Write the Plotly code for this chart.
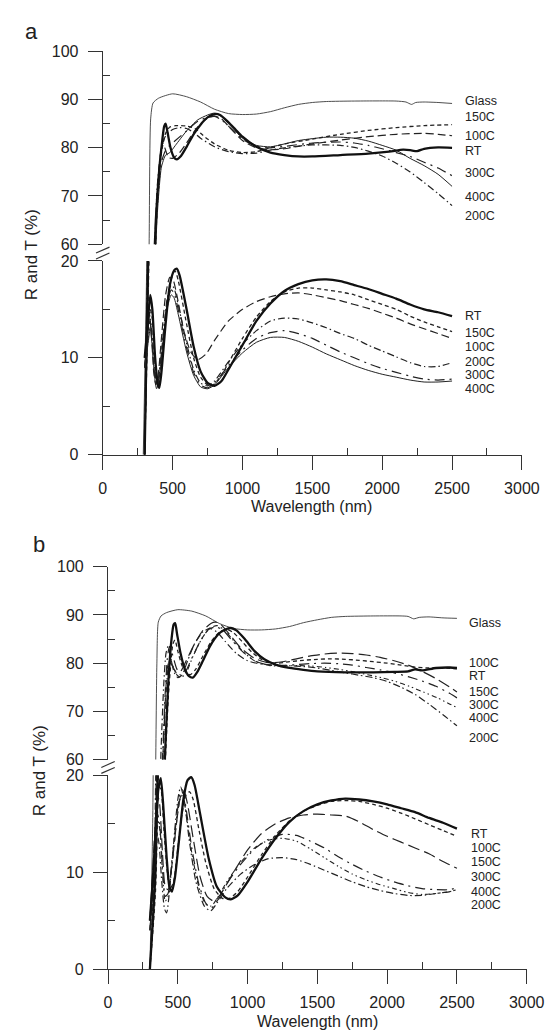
import plotly.graph_objects as go

# ---------------- data: panel (a) transmittance (upper part, %) ----------------
A_T_GLASS = [(290, 0), (315, 20), (332, 60), (343, 86), (360, 89.3), (400, 90.3), (500, 91.2), (600, 90.6),
             (700, 89.5), (800, 88.0), (900, 87.1), (1000, 86.9), (1100, 87.0), (1200, 87.5), (1300, 88.3),
             (1400, 89.0), (1500, 89.4), (1600, 89.6), (1800, 89.7), (2100, 89.7), (2170, 89.5), (2210, 89.0),
             (2240, 89.4), (2300, 89.5), (2400, 89.4), (2500, 89.2)]
A_T_RT = [(300, 0), (318, 15), (340, 32), (360, 50), (380, 65), (400, 74), (420, 80), (440, 84.5), (450, 85),
          (465, 83), (485, 80), (510, 78), (530, 77.6), (560, 78.3), (600, 80.2), (650, 82.8), (700, 84.8),
          (750, 86.3), (800, 87), (840, 86.8), (900, 85.3), (950, 83.8), (1000, 82.3), (1100, 80.2), (1200, 79),
          (1300, 78.5), (1400, 78.2), (1500, 78.2), (1700, 78.5), (1900, 78.8), (2050, 79.2), (2150, 79.6),
          (2200, 79.5), (2250, 79.3), (2300, 79.8), (2400, 80.1), (2500, 80)]
A_T_100 = [(300, 0), (320, 15), (360, 45), (390, 70), (415, 79), (430, 81), (450, 79.5), (470, 78), (500, 77.8),
           (550, 79), (600, 81), (650, 83.2), (700, 85), (760, 86.3), (800, 86.6), (850, 86), (900, 84.5),
           (1000, 81.5), (1100, 80), (1200, 79.6), (1300, 79.8), (1400, 80.3), (1500, 80.8), (1700, 81.6),
           (1900, 82.3), (2100, 82.8), (2300, 83), (2400, 82.8), (2500, 82.5)]
A_T_150 = [(300, 0), (322, 14), (360, 42), (390, 68), (420, 79), (450, 83), (480, 84.3), (520, 84.6), (600, 84.5),
           (660, 84), (720, 82.5), (800, 80.8), (900, 79.5), (1000, 79), (1100, 79.2), (1200, 80), (1300, 80.8),
           (1500, 81.8), (1700, 82.8), (1900, 83.6), (2100, 84.2), (2300, 84.6), (2500, 84.8)]
A_T_200 = [(300, 0), (318, 18), (360, 50), (390, 72), (420, 80), (450, 82.5), (500, 83.8), (550, 84.2), (600, 84),
           (650, 83.2), (700, 82), (800, 80.2), (900, 79.2), (1000, 78.8), (1100, 78.9), (1200, 79.5), (1300, 80),
           (1500, 80.6), (1700, 80.5), (1800, 80.1), (1900, 79.3), (2000, 78.3), (2100, 76.8), (2200, 75),
           (2300, 72.8), (2400, 70.5), (2500, 68)]
A_T_300 = [(300, 0), (320, 15), (360, 45), (390, 68), (420, 77), (450, 79.5), (480, 80.5), (520, 81.5), (600, 83.5),
           (680, 85.5), (750, 86.3), (800, 86.5), (850, 85.8), (900, 84.5), (1000, 81.8), (1100, 80.3), (1200, 80),
           (1300, 80.3), (1500, 81), (1700, 81.2), (1800, 81), (1900, 80.5), (2000, 79.8), (2100, 79), (2200, 78.2),
           (2300, 77), (2400, 75.8), (2500, 74.2)]
A_T_400 = [(300, 0), (321, 14), (360, 44), (390, 66), (420, 76), (450, 78.5), (480, 79), (520, 80.5), (600, 83.5),
           (680, 85.8), (750, 86.8), (800, 87.2), (850, 86.5), (900, 85), (1000, 82), (1100, 80.5), (1200, 80.2),
           (1300, 80.8), (1400, 81.5), (1500, 81.9), (1600, 82.2), (1700, 82.2), (1800, 82), (1900, 81.4),
           (2000, 80.5), (2100, 79.5), (2200, 77.8), (2300, 76.3), (2400, 74.5), (2500, 72)]

# ---------------- data: panel (a) reflectance (lower part, %) ----------------
A_R_RT = [(300, 10), (320, 13), (340, 16.5), (355, 15), (375, 10), (395, 7.2), (405, 6.9), (420, 8.5), (450, 13.5),
          (480, 17.5), (510, 19), (530, 19.2), (550, 18.5), (600, 15), (650, 11.2), (700, 8.6), (750, 7.4),
          (800, 7.1), (850, 7.6), (900, 8.8), (1000, 11.3), (1100, 13.8), (1200, 15.6), (1300, 16.9), (1400, 17.6),
          (1500, 18), (1600, 18.1), (1700, 17.9), (1800, 17.5), (1900, 17.1), (2000, 16.6), (2100, 16.1),
          (2200, 15.5), (2300, 15), (2400, 14.7), (2500, 14.3)]
A_R_150 = [(300, 10), (320, 12.5), (340, 15), (355, 14), (375, 9.5), (390, 7.5), (400, 7.2), (420, 9), (450, 14),
           (480, 17.5), (505, 18.8), (520, 18.9), (540, 18), (600, 13.5), (650, 10), (700, 8), (750, 7.2), (790, 7.2),
           (850, 8.2), (900, 9.5), (1000, 12), (1100, 14.2), (1200, 15.8), (1300, 16.8), (1400, 17.2), (1500, 17.2),
           (1600, 17), (1700, 16.8), (1800, 16.5), (1900, 16), (2000, 15.5), (2100, 15), (2200, 14.3), (2300, 13.7),
           (2400, 13.2), (2500, 12.7)]
A_R_100 = [(300, 9), (320, 12), (335, 14.5), (350, 12), (365, 8.5), (380, 7.2), (395, 8), (420, 12), (450, 16.5),
           (480, 18.3), (500, 18.2), (530, 16.5), (580, 12.8), (630, 10.6), (680, 9.8), (740, 10.4), (800, 11.8),
           (900, 13.8), (1000, 15), (1100, 15.8), (1200, 16.3), (1300, 16.6), (1400, 16.7), (1500, 16.5),
           (1600, 16.2), (1700, 15.9), (1800, 15.5), (1900, 15.1), (2000, 14.6), (2100, 14.1), (2200, 13.5),
           (2300, 13), (2400, 12.5), (2500, 12)]
A_R_200 = [(300, 9), (320, 12), (340, 14), (355, 12), (370, 9), (385, 7.5), (400, 8), (430, 12), (460, 16),
           (490, 17.5), (510, 17.2), (540, 15.5), (600, 11.5), (650, 8.8), (700, 7.4), (750, 7.1), (800, 7.6),
           (900, 9.6), (1000, 11.4), (1100, 12.8), (1200, 13.8), (1300, 14.1), (1400, 14), (1500, 13.6),
           (1600, 13.1), (1700, 12.5), (1800, 12), (1900, 11.3), (2000, 10.7), (2100, 10.1), (2200, 9.5),
           (2300, 9.1), (2400, 9.1), (2500, 9.5)]
A_R_300 = [(300, 9), (320, 11.5), (340, 13.5), (355, 11.5), (370, 8.5), (385, 7), (400, 7.8), (430, 12), (460, 15.5),
           (490, 17), (510, 16.7), (540, 15), (600, 11), (650, 8.5), (700, 7.2), (750, 6.9), (800, 7.4), (900, 9.2),
           (1000, 10.8), (1100, 12), (1200, 12.6), (1300, 12.8), (1400, 12.5), (1500, 12), (1600, 11.3),
           (1700, 10.6), (1800, 10), (1900, 9.4), (2000, 8.9), (2100, 8.5), (2200, 8.1), (2300, 7.8), (2400, 7.7),
           (2500, 7.8)]
A_R_400 = [(300, 9), (320, 11), (340, 13), (355, 11), (370, 8.2), (385, 6.8), (400, 7.5), (430, 11.5), (460, 15),
           (490, 16.5), (510, 16.2), (540, 14.5), (600, 10.6), (650, 8.2), (700, 7), (750, 6.8), (800, 7.2),
           (900, 9), (1000, 10.5), (1100, 11.6), (1200, 12.1), (1300, 12.1), (1400, 11.7), (1500, 11.1),
           (1600, 10.4), (1700, 9.8), (1800, 9.2), (1900, 8.7), (2000, 8.3), (2100, 8), (2200, 7.7), (2300, 7.5),
           (2400, 7.5), (2500, 7.6)]

# ---------------- data: panel (b) transmittance ----------------
B_T_GLASS = [(300, 0), (320, 15), (340, 55), (350, 80), (360, 88.5), (380, 89.8), (420, 90.5), (500, 91.1),
             (600, 90.8), (700, 89.8), (800, 88.2), (900, 87.2), (1000, 86.9), (1100, 86.9), (1200, 87.1),
             (1300, 87.6), (1400, 88.4), (1500, 89), (1600, 89.5), (1700, 89.7), (1900, 89.8), (2100, 89.8),
             (2150, 89.7), (2190, 89.2), (2230, 89.5), (2300, 89.6), (2400, 89.4), (2500, 89.3)]
B_T_RT = [(300, 0), (340, 10), (370, 30), (400, 55), (430, 75), (455, 85), (470, 88), (481, 88.3), (495, 86),
          (520, 82), (550, 78.8), (580, 77.3), (607, 77), (640, 78.2), (680, 80.5), (730, 83.5), (790, 86),
          (840, 87), (880, 87.3), (920, 86.8), (980, 85), (1050, 82.5), (1120, 80.8), (1200, 79.7), (1300, 79),
          (1400, 78.6), (1500, 78.3), (1700, 78.1), (1900, 78.1), (2050, 78.2), (2150, 78.3), (2200, 78.7),
          (2250, 78.5), (2350, 79), (2450, 79.1), (2500, 79)]
B_T_100 = [(300, 0), (340, 8), (370, 28), (400, 52), (430, 72), (450, 80), (465, 84), (480, 84.8), (500, 82.5),
           (530, 79.5), (560, 78), (590, 77.6), (630, 78.8), (680, 81.5), (740, 84.5), (800, 86.5), (850, 87),
           (900, 86.3), (960, 84.5), (1030, 82.3), (1100, 80.8), (1200, 80), (1300, 80.3), (1400, 80.6),
           (1500, 80.8), (1600, 80.9), (1700, 80.8), (1800, 80.6), (1900, 80.3), (2000, 80), (2100, 79.6),
           (2200, 79.2), (2300, 79), (2400, 79), (2500, 78.8)]
B_T_150 = [(300, 0), (330, 8), (360, 30), (390, 58), (410, 72), (425, 79), (440, 80.5), (460, 79.5), (490, 78),
           (520, 78.3), (560, 80.5), (620, 84), (680, 86.8), (740, 88.3), (770, 88.5), (810, 88), (870, 86),
           (950, 83.2), (1050, 81), (1150, 80.1), (1250, 80.3), (1350, 80.9), (1450, 81.5), (1550, 81.9),
           (1650, 82.1), (1750, 82), (1850, 81.7), (1950, 81.2), (2050, 80.5), (2150, 79.6), (2250, 78.3),
           (2350, 76.8), (2450, 75), (2500, 74)]
B_T_200 = [(300, 0), (330, 10), (355, 35), (380, 62), (400, 76), (415, 82), (430, 83.5), (450, 81), (475, 78),
           (500, 77), (530, 77.5), (570, 80.5), (620, 84), (680, 86.5), (730, 87.2), (780, 86.5), (840, 84.5),
           (920, 82), (1000, 80.5), (1100, 79.8), (1200, 79.6), (1300, 79.5), (1400, 79.3), (1500, 79),
           (1600, 78.5), (1700, 78), (1800, 77.5), (1900, 77), (2000, 76.2), (2100, 75), (2200, 73.5),
           (2300, 71.5), (2400, 69.3), (2500, 67)]
B_T_300 = [(300, 0), (330, 9), (360, 32), (390, 60), (410, 74), (425, 81), (440, 83.5), (460, 82), (490, 79),
           (520, 77.5), (550, 78), (600, 81), (660, 84.5), (720, 87), (770, 87.5), (820, 87), (880, 85), (960, 82.5),
           (1050, 80.5), (1150, 79.6), (1250, 79.5), (1350, 79.7), (1450, 79.9), (1550, 80), (1650, 79.9),
           (1750, 79.6), (1850, 79.1), (1950, 78.6), (2050, 78), (2150, 77.2), (2250, 76.3), (2350, 75.2),
           (2450, 73.7), (2500, 72.8)]
B_T_400 = [(300, 0), (330, 8), (360, 30), (390, 57), (410, 71), (430, 79), (445, 81), (465, 79.5), (495, 77.5),
           (525, 77), (560, 78), (610, 81.5), (670, 85), (730, 87.3), (780, 87.8), (830, 87), (890, 85), (970, 82.3),
           (1060, 80.3), (1160, 79.5), (1260, 79.4), (1360, 79.5), (1460, 79.4), (1560, 79.1), (1660, 78.7),
           (1760, 78.2), (1860, 77.6), (1960, 77), (2060, 76.2), (2160, 75.2), (2260, 74), (2360, 72.8),
           (2450, 71.5), (2500, 70.8)]

# ---------------- data: panel (b) reflectance ----------------
B_R_RT = [(300, 5), (320, 9), (340, 14), (360, 18.5), (378, 19.7), (395, 17), (420, 11.5), (440, 8.5), (458, 8),
          (480, 9.5), (510, 13.5), (540, 17.5), (570, 19.5), (596, 19.8), (620, 19), (660, 16), (720, 11.5),
          (780, 8.5), (840, 7.4), (880, 7.2), (930, 7.6), (1000, 9), (1100, 11.4), (1200, 13.5), (1300, 15.2),
          (1400, 16.3), (1500, 17), (1600, 17.4), (1700, 17.6), (1800, 17.5), (1900, 17.3), (2000, 17),
          (2100, 16.6), (2200, 16.2), (2300, 15.6), (2400, 15.1), (2500, 14.5)]
B_R_100 = [(300, 5), (320, 9), (345, 15), (365, 18.8), (380, 18.5), (400, 14.5), (425, 10), (445, 8.3), (470, 9),
           (500, 12.5), (530, 16), (560, 18), (585, 18.3), (610, 17.5), (650, 14.5), (700, 11), (760, 8.3),
           (820, 7.3), (870, 7.3), (930, 8), (1000, 9.5), (1100, 11.8), (1200, 13.8), (1300, 15.3), (1400, 16.3),
           (1500, 16.9), (1600, 17.3), (1700, 17.4), (1800, 17.3), (1900, 17), (2000, 16.6), (2100, 16.1),
           (2200, 15.5), (2300, 14.9), (2400, 14.3), (2500, 13.7)]
B_R_150 = [(300, 5), (320, 10), (340, 15.5), (355, 18), (370, 17), (390, 12), (410, 8.5), (430, 8.2), (460, 11),
           (490, 15), (520, 17.8), (545, 18.3), (570, 17), (610, 13.5), (660, 9.5), (710, 7.5), (760, 7), (810, 7.8),
           (900, 10), (1000, 12.3), (1100, 14), (1200, 15), (1300, 15.6), (1400, 15.9), (1500, 16), (1600, 15.9),
           (1700, 15.8), (1800, 15.2), (1900, 14.4), (2000, 13.7), (2100, 13.1), (2200, 12.5), (2300, 11.9),
           (2400, 11.1), (2500, 10.4)]
B_R_200 = [(300, 4), (320, 7.5), (335, 11), (350, 14), (365, 13), (385, 9), (405, 6.2), (420, 5.8), (440, 8),
           (470, 13), (500, 17.5), (520, 18.8), (545, 17.5), (580, 13.5), (630, 9), (690, 6.5), (735, 6), (780, 6.8),
           (850, 8.3), (950, 9.8), (1050, 10.8), (1150, 11.4), (1250, 11.5), (1350, 11.3), (1450, 10.8),
           (1550, 10.2), (1650, 9.6), (1750, 9), (1850, 8.5), (1950, 8.1), (2050, 7.8), (2150, 7.6), (2250, 7.6),
           (2350, 7.8), (2450, 8), (2500, 8.2)]
B_R_300 = [(300, 4), (320, 8), (340, 13), (355, 16), (370, 15), (390, 10.5), (410, 7.5), (430, 7.8), (460, 11.5),
           (490, 15.5), (515, 18), (535, 18.5), (560, 16.5), (600, 12.5), (650, 8.8), (700, 6.8), (740, 6.3),
           (790, 7.2), (850, 8.8), (950, 10.8), (1050, 12.4), (1150, 13.4), (1250, 13.9), (1350, 13.8),
           (1450, 13.2), (1550, 12.5), (1650, 11.6), (1750, 10.8), (1850, 10.1), (1950, 9.5), (2050, 9),
           (2150, 8.6), (2250, 8.3), (2350, 8.2), (2450, 8.2), (2500, 8.4)]
B_R_400 = [(300, 4), (320, 8), (340, 12.5), (355, 15.5), (370, 14.5), (390, 10), (410, 7), (430, 7.5), (460, 11),
           (490, 15), (515, 17.5), (535, 18), (560, 16), (600, 12), (650, 8.5), (700, 6.7), (740, 6.5), (790, 7.5),
           (850, 9), (950, 11), (1050, 12.5), (1150, 13.3), (1250, 13.5), (1350, 13.2), (1450, 12.4), (1550, 11.5),
           (1650, 10.6), (1750, 9.8), (1850, 9.2), (1950, 8.7), (2050, 8.3), (2150, 7.9), (2250, 7.7), (2350, 7.8),
           (2450, 8), (2500, 8.2)]

# ---------------- curve-end labels ----------------
A_T_LABELS = [("Glass", 89.8), ("150C", 86.4), ("100C", 82.5), ("RT", 79.3), ("300C", 74.7), ("400C", 69.8), ("200C", 65.9)]
A_R_LABELS = [("RT", 14.3), ("150C", 12.6), ("100C", 11.1), ("200C", 9.6), ("300C", 8.2), ("400C", 6.8)]
B_T_LABELS = [("Glass", 88.3), ("100C", 80.1), ("RT", 77.4), ("150C", 74.0), ("300C", 71.3), ("400C", 68.6), ("200C", 64.5)]
B_R_LABELS = [("RT", 13.9), ("100C", 12.5), ("150C", 11.1), ("300C", 9.5), ("400C", 8.0), ("200C", 6.6)]

X_TICKS = [0, 500, 1000, 1500, 2000, 2500, 3000]
X_MINOR = [250, 750, 1250, 1750, 2250, 2750]
Y_LOW_TICKS = [0, 10, 20]
Y_LOW_MINOR = [5, 15]
Y_UP_TICKS = [60, 70, 80, 90, 100]
Y_UP_MINOR = [65, 75, 85, 95]

# ---------------- styles ----------------
STY = {
    "Glass": dict(color="#3a3a3a", width=0.9, dash="solid"),
    "RT": dict(color="#111111", width=2.3, dash="solid"),
    "100C": dict(color="#222222", width=1.2, dash="8px,4px"),
    "150C": dict(color="#222222", width=1.3, dash="4px,3px"),
    "200C": dict(color="#222222", width=1.2, dash="7px,3px,1.5px,3px"),
    "300C": dict(color="#222222", width=1.2, dash="10px,5px,2px,5px"),
    "400C": dict(color="#222222", width=1.0, dash="solid"),
}
B_STY = dict(STY)
B_STY["100C"] = dict(color="#222222", width=1.3, dash="4px,3px")
B_STY["150C"] = dict(color="#222222", width=1.2, dash="12px,5px")
B_STY["400C"] = dict(color="#222222", width=1.1, dash="5px,3px,1.5px,3px,1.5px,3px")

W, H = 554, 1033
FONT = "Liberation Sans, Arial, Helvetica, sans-serif"

def fx(px):
    return px / W

def fy(py):
    return 1 - py / H

fig = go.Figure()

def add(curve, name, xa, ya, sty):
    fig.add_trace(go.Scatter(
        x=[p[0] for p in curve], y=[p[1] for p in curve], xaxis=xa, yaxis=ya, mode="lines",
        line=dict(color=sty["color"], width=sty["width"], dash=sty["dash"], shape="spline", smoothing=0.6),
        showlegend=False, hoverinfo="skip", name=name))

a_T = [("Glass", A_T_GLASS), ("150C", A_T_150), ("100C", A_T_100), ("200C", A_T_200),
       ("300C", A_T_300), ("400C", A_T_400), ("RT", A_T_RT)]
a_R = [("150C", A_R_150), ("100C", A_R_100), ("200C", A_R_200), ("300C", A_R_300), ("400C", A_R_400), ("RT", A_R_RT)]
b_T = [("Glass", B_T_GLASS), ("150C", B_T_150), ("100C", B_T_100), ("200C", B_T_200),
       ("300C", B_T_300), ("400C", B_T_400), ("RT", B_T_RT)]
b_R = [("150C", B_R_150), ("100C", B_R_100), ("200C", B_R_200), ("300C", B_R_300), ("400C", B_R_400), ("RT", B_R_RT)]

for name, c in a_T:
    add(c, name, "x", "y2", STY[name])   # upper part
    add(c, name, "x", "y", STY[name])    # steep rise through lower part
for name, c in a_R:
    add(c, name, "x", "y", STY[name])
for name, c in b_T:
    add(c, name, "x2", "y4", B_STY[name])
    add(c, name, "x2", "y3", B_STY[name])
for name, c in b_R:
    add(c, name, "x2", "y3", B_STY[name])

LINE = "#333333"
TICKFONT = dict(family=FONT, size=16, color="#222")

def yax(dom, rng, ticks, minor_ticks, anchor):
    return dict(domain=dom, range=rng, tickvals=ticks, anchor=anchor, showline=True, linecolor=LINE,
                linewidth=1.2, ticks="outside", ticklen=14, tickwidth=1.2, tickcolor=LINE, showgrid=False,
                zeroline=False, tickfont=TICKFONT, ticklabelstandoff=6,
                minor=dict(ticks="inside", ticklen=7, tickwidth=1.2, tickcolor=LINE, tickvals=minor_ticks,
                           showgrid=False))

def xax(dom, anchor):
    return dict(domain=dom, range=[0, 3000], tickvals=X_TICKS, anchor=anchor, showline=True, linecolor=LINE,
                linewidth=1.2, ticks="outside", ticklen=14, tickwidth=1.2, tickcolor=LINE, showgrid=False,
                zeroline=False, tickfont=TICKFONT, ticklabelstandoff=5,
                minor=dict(ticks="inside", ticklen=7, tickwidth=1.2, tickcolor=LINE, tickvals=X_MINOR,
                           showgrid=False))

fig.update_layout(
    width=W, height=H, margin=dict(l=0, r=0, t=0, b=0), autosize=False,
    paper_bgcolor="white", plot_bgcolor="rgba(0,0,0,0)",
    xaxis=xax([fx(94.5), fx(531)], "y"),
    yaxis=yax([fy(446), fy(249)], [0, 20], Y_LOW_TICKS, Y_LOW_MINOR, "x"),
    yaxis2=yax([fy(232), fy(36)], [60, 100], Y_UP_TICKS, Y_UP_MINOR, "x"),
    xaxis2=xax([fx(100), fx(536)], "y3"),
    yaxis3=yax([fy(969), fy(772)], [0, 20], Y_LOW_TICKS, Y_LOW_MINOR, "x2"),
    yaxis4=yax([fy(756), fy(560)], [60, 100], Y_UP_TICKS, Y_UP_MINOR, "x2"),
)

ann = []
lab_font = dict(family=FONT, size=12.5, color="#222")
for t, v in A_T_LABELS:
    ann.append(dict(x=2576, y=v, xref="x", yref="y2", text=t, showarrow=False, xanchor="left", yanchor="middle", font=lab_font))
for t, v in A_R_LABELS:
    ann.append(dict(x=2576, y=v, xref="x", yref="y", text=t, showarrow=False, xanchor="left", yanchor="middle", font=lab_font))
for t, v in B_T_LABELS:
    ann.append(dict(x=2570, y=v, xref="x2", yref="y4", text=t, showarrow=False, xanchor="left", yanchor="middle", font=lab_font))
for t, v in B_R_LABELS:
    ann.append(dict(x=2590, y=v, xref="x2", yref="y3", text=t, showarrow=False, xanchor="left", yanchor="middle", font=lab_font))

tfont = dict(family=FONT, size=16, color="#222")
big = dict(family=FONT, size=22, color="#222")
def pann(x, y, text, font, angle=0):
    return dict(x=fx(x), y=fy(y), xref="paper", yref="paper", text=text, showarrow=False,
                xanchor="center", yanchor="middle", textangle=angle, font=font)

ann += [
    pann(20, 16, "a", big),
    pann(28, 537, "b", big),
    pann(312, 499, "Wavelength (nm)", tfont),
    pann(318, 1022, "Wavelength (nm)", tfont),
    pann(20, 243, "R and T (%)", dict(family=FONT, size=17, color="#222"), -90),
    pann(29, 767, "R and T (%)", dict(family=FONT, size=17, color="#222"), -90),
]
fig.update_layout(annotations=ann)

# axis-break marks
shapes = []
for (ax0, ay0) in [(94.5, 241), (100, 764)]:
    for d in (-3, 3):
        shapes.append(dict(type="line", xref="paper", yref="paper",
                           x0=fx(ax0 - 7), y0=fy(ay0 + d + 3), x1=fx(ax0 + 7), y1=fy(ay0 + d - 3),
                           line=dict(color=LINE, width=1.2)))
fig.update_layout(shapes=shapes)

fig.write_html("out.html")
